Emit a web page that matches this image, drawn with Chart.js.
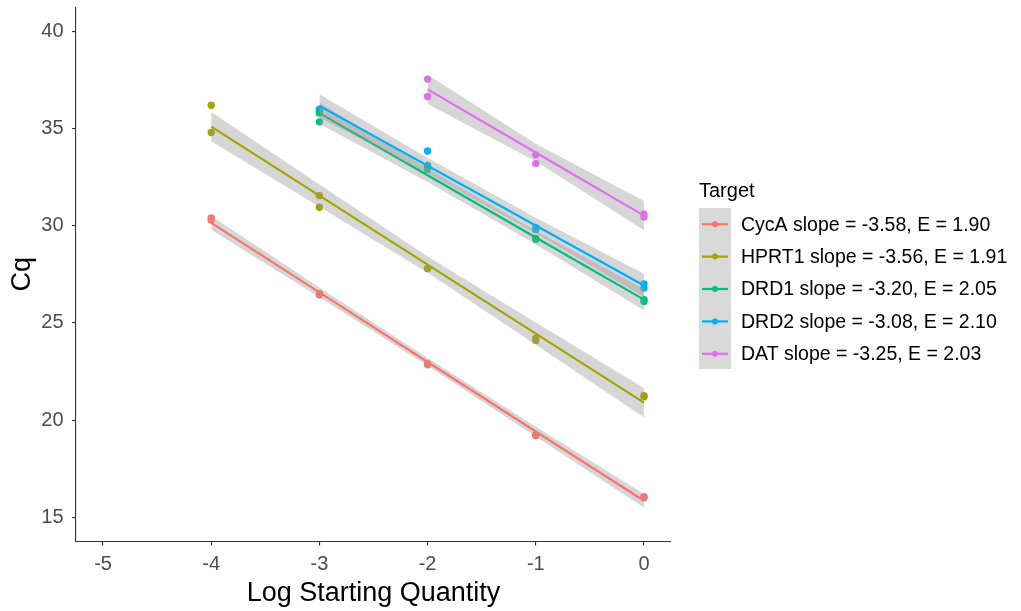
<!DOCTYPE html>
<html>
<head>
<meta charset="utf-8">
<script src="https://cdn.jsdelivr.net/npm/chart.js@4.4.1/dist/chart.umd.min.js"></script>
<style>
  html, body { margin: 0; padding: 0; background: #fff; }
  #wrap { width: 1021px; height: 611px; }
</style>
</head>
<body>
<div id="wrap"><canvas id="stdChart"></canvas></div>
<script>
// Standard curves, Cq vs log starting quantity (two replicates per dilution)
const targets = ['CycA', 'HPRT1', 'DRD1', 'DRD2', 'DAT'];
const legendLabels = [
    'CycA slope = -3.58, E = 1.90',
    'HPRT1 slope = -3.56, E = 1.91',
    'DRD1 slope = -3.20, E = 2.05',
    'DRD2 slope = -3.08, E = 2.10',
    'DAT slope = -3.25, E = 2.03'
];
const colors = ['#F8766D', '#A3A500', '#00BF7D', '#00B0F6', '#E76BF3'];

const xTicks = [-5, -4, -3, -2, -1, 0];
const yTicks = [15, 20, 25, 30, 35, 40];

// raw points
const cycaX = [-4, -4, -3, -3, -2, -2, -1, -1, 0, 0];
const cycaCq = [30.4, 30.3, 26.5, 26.45, 22.9, 22.85, 19.25, 19.2, 16.05, 16.0];
const hprt1X = [-4, -4, -3, -3, -2, -2, -1, -1, 0, 0];
const hprt1Cq = [36.2, 34.8, 31.55, 30.95, 27.8, 27.8, 24.2, 24.1, 21.25, 21.2];
const drd1X = [-3, -3, -2, -2, -1, -1, 0, 0];
const drd1Cq = [35.35, 35.8, 33.0, 32.9, 29.35, 29.3, 26.1, 26.2];
const drd2X = [-3, -3, -2, -2, -1, -1, 0, 0];
const drd2Cq = [35.9, 36.0, 33.85, 33.1, 29.9, 29.8, 27.0, 26.8];
const datX = [-2, -2, -1, -1, 0, 0];
const datCq = [37.55, 36.65, 33.65, 33.2, 30.6, 30.45];

// fitted lines and confidence bands
const cycaFitX = [-4, -3, -2, -1, 0];
const cycaFit = [30.15, 26.57, 22.99, 19.41, 15.85];
const cycaUpper = [30.5, 26.82, 23.19, 19.66, 16.2];
const cycaLower = [29.8, 26.32, 22.79, 19.16, 15.5];

const hprt1FitX = [-4, -3, -2, -1, 0];
const hprt1Fit = [35.1, 31.55, 28.0, 24.45, 20.9];
const hprt1Upper = [35.85, 32.12, 28.42, 25.02, 21.65];
const hprt1Lower = [34.35, 30.98, 27.58, 23.88, 20.15];

const drd1FitX = [-3, -2, -1, 0];
const drd1Fit = [35.8, 32.6, 29.4, 26.2];
const drd1Upper = [36.35, 32.95, 29.75, 26.75];
const drd1Lower = [35.25, 32.25, 29.05, 25.65];

const drd2FitX = [-3, -2, -1, 0];
const drd2Fit = [36.17, 33.09, 30.01, 26.93];
const drd2Upper = [36.77, 33.49, 30.41, 27.53];
const drd2Lower = [35.57, 32.69, 29.61, 26.33];

const datFitX = [-2, -1, 0];
const datFit = [37.02, 33.77, 30.52];
const datUpper = [37.77, 34.22, 31.27];
const datLower = [36.27, 33.32, 29.77];

const pts = (xs, ys) => xs.map((x, i) => ({ x: x, y: ys[i] }));

const series = [
    { x: cycaX, y: cycaCq, fx: cycaFitX, fit: cycaFit, up: cycaUpper, lo: cycaLower },
    { x: hprt1X, y: hprt1Cq, fx: hprt1FitX, fit: hprt1Fit, up: hprt1Upper, lo: hprt1Lower },
    { x: drd1X, y: drd1Cq, fx: drd1FitX, fit: drd1Fit, up: drd1Upper, lo: drd1Lower },
    { x: drd2X, y: drd2Cq, fx: drd2FitX, fit: drd2Fit, up: drd2Upper, lo: drd2Lower },
    { x: datX, y: datCq, fx: datFitX, fit: datFit, up: datUpper, lo: datLower }
];

const datasets = [];
// points go underneath
series.forEach((s, i) => {
    datasets.push({
        type: 'scatter',
        label: targets[i] + ' points',
        data: pts(s.x, s.y),
        backgroundColor: colors[i],
        borderColor: colors[i],
        pointRadius: 3.7,
        borderWidth: 0,
        order: 20
    });
});
// bands + fitted lines, one group after the other
series.forEach((s, i) => {
    datasets.push({
        type: 'line',
        label: targets[i] + ' upper',
        data: pts(s.fx, s.up),
        borderWidth: 0,
        pointRadius: 0,
        backgroundColor: 'rgba(153,153,153,0.4)',
        fill: '+1',
        order: 10 - i * 2
    });
    datasets.push({
        type: 'line',
        label: targets[i] + ' lower',
        data: pts(s.fx, s.lo),
        borderWidth: 0,
        pointRadius: 0,
        fill: false,
        order: 10 - i * 2
    });
    datasets.push({
        type: 'line',
        label: targets[i],
        data: pts(s.fx, s.fit),
        borderColor: colors[i],
        borderWidth: 2.2,
        pointRadius: 0,
        fill: false,
        order: 9 - i * 2
    });
});

const FONT = "'Liberation Sans', Arial, sans-serif";

const legendPlugin = {
    id: 'sideLegend',
    afterDraw: (chart) => {
        const ctx = chart.ctx;
        const keyX = 699, keyW = 32, top = 208, step = 32.4;
        ctx.save();
        ctx.fillStyle = '#000';
        ctx.font = '20px ' + FONT;
        ctx.textBaseline = 'alphabetic';
        ctx.fillText('Target', 699, 197);
        ctx.fillStyle = '#D9D9D9';
        ctx.fillRect(keyX, top, keyW, step * targets.length - 1);
        ctx.font = '19.5px ' + FONT;
        ctx.textBaseline = 'middle';
        legendLabels.forEach((lab, i) => {
            const cy = top + step * i + step / 2;
            ctx.strokeStyle = colors[i];
            ctx.lineWidth = 2.2;
            ctx.beginPath();
            ctx.moveTo(keyX + 3, cy);
            ctx.lineTo(keyX + keyW - 3, cy);
            ctx.stroke();
            ctx.fillStyle = colors[i];
            ctx.beginPath();
            ctx.arc(keyX + keyW / 2, cy, 3, 0, Math.PI * 2);
            ctx.fill();
            ctx.fillStyle = '#000';
            ctx.fillText(lab, 741, cy + 1);
        });
        ctx.restore();
    }
};

const ctx = document.getElementById('stdChart').getContext('2d');
const chart = new Chart(ctx, {
    data: { datasets: datasets },
    options: {
        responsive: true,
        maintainAspectRatio: false,
        animation: false,
        layout: { padding: { top: 7.2, right: 350, bottom: 0, left: 0 } },
        plugins: {
            legend: { display: false },
            tooltip: { enabled: false },
            filler: { propagate: false }
        },
        scales: {
            x: {
                type: 'linear',
                min: -5.25,
                max: 0.25,
                afterBuildTicks: (scale) => { scale.ticks = xTicks.map(v => ({ value: v })); },
                afterFit: (scale) => { scale.height = 69.5; scale.paddingLeft = 0; scale.paddingRight = 0; },
                grid: { display: true, drawOnChartArea: false, drawTicks: true, tickLength: 4, color: '#333', lineWidth: 1.1 },
                border: { display: true, color: '#333', width: 1.1 },
                ticks: { color: '#4D4D4D', padding: 6.5, font: { size: 20, family: FONT } },
                title: { display: true, text: 'Log Starting Quantity', color: '#000', font: { size: 27, family: FONT }, padding: { top: 2, bottom: 1.5 } }
            },
            y: {
                type: 'linear',
                min: 13.75,
                max: 41.25,
                afterBuildTicks: (scale) => { scale.ticks = yTicks.map(v => ({ value: v })); },
                afterFit: (scale) => { scale.width = 76; scale.paddingTop = 0; scale.paddingBottom = 0; },
                grid: { display: true, drawOnChartArea: false, drawTicks: true, tickLength: 4, color: '#333', lineWidth: 1.1 },
                border: { display: true, color: '#333', width: 1.1 },
                ticks: { color: '#4D4D4D', padding: 8.5, font: { size: 20, family: FONT } },
                title: { display: true, text: 'Cq', color: '#000', font: { size: 27, family: FONT }, padding: { top: 6.5, bottom: 0 } }
            }
        }
    },
    plugins: [legendPlugin]
});
</script>
</body>
</html>
